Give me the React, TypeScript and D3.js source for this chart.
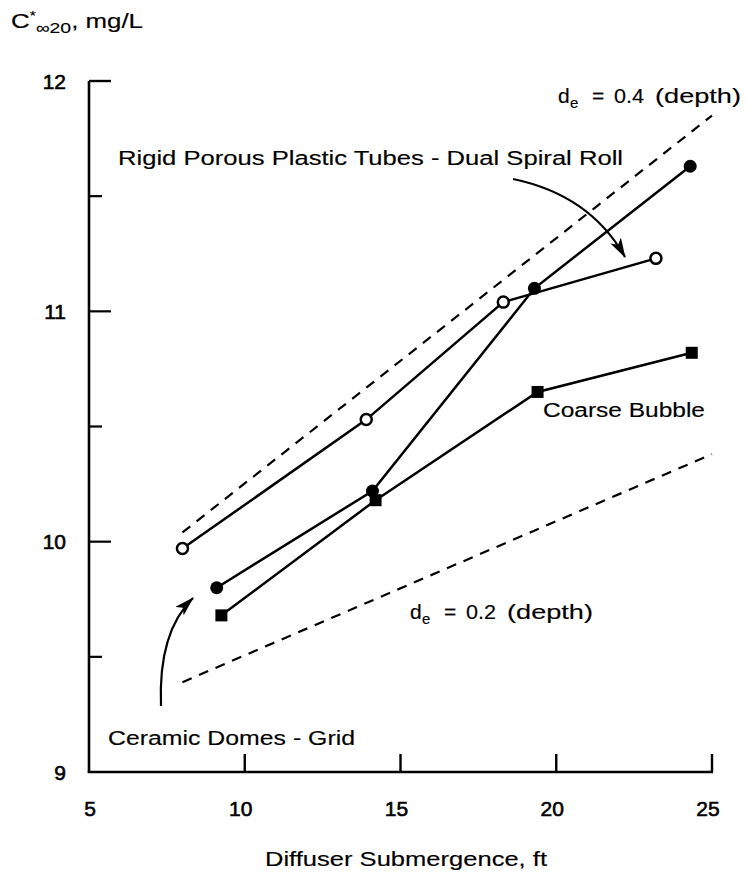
import React from "react";
import * as d3 from "d3";

const xTicks = [5, 10, 15, 20, 25];
const yTicks = [9, 10, 11, 12];
const yHalfTicks = [9.5, 10.5, 11.5];

const tubesX = [8, 13.9, 18.3, 23.2];
const tubesY = [9.97, 10.53, 11.04, 11.23];

const domesX = [9.1, 14.1, 19.3, 24.3];
const domesY = [9.8, 10.22, 11.1, 11.63];

const coarseX = [9.25, 14.2, 19.4, 24.35];
const coarseY = [9.68, 10.18, 10.65, 10.82];

const de04X = [8, 25];
const de04Y = [10.04, 11.85];

const de02X = [8, 25];
const de02Y = [9.39, 10.38];

const W = 748;
const H = 878;
const FONT = "'Liberation Sans', Arial, Helvetica, sans-serif";
const ADJ = "spacingAndGlyphs";

function DeLabel({ x0, y0, value }: { x0: number; y0: number; value: string }) {
  return (
    <g fontSize={21} fill="#000" stroke="#000" strokeWidth={0.15}>
      <text x={x0} y={y0}>d</text>
      <text x={x0 + 12} y={y0 + 5} fontSize={15}>e</text>
      <text x={x0 + 34} y={y0}>=</text>
      <text x={x0 + 56} y={y0} textLength={30} lengthAdjust={ADJ}>{value}</text>
      <text x={x0 + 97} y={y0} textLength={86} lengthAdjust={ADJ}>(depth)</text>
    </g>
  );
}

export default function App() {
  const x = d3.scaleLinear().domain([5, 25]).range([89, 712]);
  const y = d3.scaleLinear().domain([9, 12]).range([772, 81]);
  const line = d3
    .line<[number, number]>()
    .x((d) => x(d[0]))
    .y((d) => y(d[1]));
  const zip = (a: number[], b: number[]) => a.map((v, i) => [v, b[i]] as [number, number]);

  const axisY0 = y(9);
  const axisX0 = x(5);

  return (
    <svg width={W} height={H} style={{ position: "absolute", left: 0, top: 0, background: "#fff" }} fontFamily={FONT}>
      <defs>
        <marker id="ah2" viewBox="0 0 20 12" refX="19" refY="6" markerWidth="20" markerHeight="12" orient="auto" markerUnits="userSpaceOnUse">
          <path d="M0,0 L20,6 L0,12 L5,6 z" fill="#000" />
        </marker>
      </defs>

      {/* Y axis title */}
      <text x={11} y={28} fontSize={20} fill="#000" stroke="#000" strokeWidth={0.15} textLength={132} lengthAdjust={ADJ}>
        C<tspan dy={-8} fontSize={12}>*</tspan>
        <tspan dy={13} fontSize={15}>∞20</tspan>
        <tspan dy={-5}>, mg/L</tspan>
      </text>

      {/* axes */}
      <line x1={axisX0} y1={y(12)} x2={axisX0} y2={axisY0} stroke="#000" strokeWidth={2.6} />
      <line x1={axisX0 - 1.3} y1={axisY0} x2={x(25) + 1} y2={axisY0} stroke="#000" strokeWidth={2.6} />
      <line x1={axisX0} y1={y(12)} x2={axisX0 + 22} y2={y(12)} stroke="#000" strokeWidth={2.4} />
      {yTicks.filter((v) => v !== 9 && v !== 12).map((v) => (
        <line key={"ym" + v} x1={axisX0} y1={y(v)} x2={axisX0 + 22} y2={y(v)} stroke="#000" strokeWidth={2.2} />
      ))}
      {yHalfTicks.map((v) => (
        <line key={"yh" + v} x1={axisX0} y1={y(v)} x2={axisX0 + 13} y2={y(v)} stroke="#000" strokeWidth={2.2} />
      ))}
      {yTicks.map((v) => (
        <text key={"yl" + v} x={66} y={y(v)} dy="0.36em" textAnchor="end" fontSize={21} fill="#000" stroke="#000" strokeWidth={0.6}>
          {v}
        </text>
      ))}
      {xTicks.filter((v) => v !== 5).map((v) => (
        <line key={"xt" + v} x1={x(v)} y1={axisY0} x2={x(v)} y2={axisY0 - 18} stroke="#000" strokeWidth={2.4} />
      ))}
      {xTicks.map((v) => (
        <text key={"xl" + v} x={x(v) - (v === 5 ? -1 : 4)} y={816} textAnchor="middle" fontSize={21} fill="#000" stroke="#000" strokeWidth={0.6}>
          {v}
        </text>
      ))}

      {/* X axis title */}
      <text x={265} y={866} fontSize={20} fill="#000" stroke="#000" strokeWidth={0.15} textLength={282} lengthAdjust={ADJ}>
        Diffuser Submergence, ft
      </text>

      {/* dashed reference lines */}
      <path d={line(zip(de04X, de04Y)) || ""} fill="none" stroke="#000" strokeWidth={2.2} strokeDasharray="10 8" />
      <path d={line(zip(de02X, de02Y)) || ""} fill="none" stroke="#000" strokeWidth={2.2} strokeDasharray="10 8" />

      {/* series lines */}
      <path d={line(zip(tubesX, tubesY)) || ""} fill="none" stroke="#000" strokeWidth={2.5} />
      <path d={line(zip(domesX, domesY)) || ""} fill="none" stroke="#000" strokeWidth={2.5} />
      <path d={line(zip(coarseX, coarseY)) || ""} fill="none" stroke="#000" strokeWidth={2.5} />

      {/* markers */}
      {tubesX.map((v, i) => (
        <circle key={"t" + i} cx={x(v)} cy={y(tubesY[i])} r={5.5} fill="#fff" stroke="#000" strokeWidth={2.5} />
      ))}
      {domesX.map((v, i) => (
        <circle key={"d" + i} cx={x(v)} cy={y(domesY[i])} r={6.5} fill="#000" />
      ))}
      {coarseX.map((v, i) => (
        <rect key={"c" + i} x={x(v) - 6} y={y(coarseY[i]) - 6} width={12} height={12} fill="#000" />
      ))}

      {/* annotations */}
      <DeLabel x0={558} y0={103} value="0.4" />
      <text x={118} y={165} fontSize={20} fill="#000" stroke="#000" strokeWidth={0.15} textLength={505} lengthAdjust={ADJ}>
        Rigid Porous Plastic Tubes - Dual Spiral Roll
      </text>
      <path d="M513,179 Q590,195 625,257" fill="none" stroke="#000" strokeWidth={2.2} markerEnd="url(#ah2)" />

      <text x={543} y={417} fontSize={20} fill="#000" stroke="#000" strokeWidth={0.15} textLength={162} lengthAdjust={ADJ}>
        Coarse Bubble
      </text>

      <DeLabel x0={410} y0={619} value="0.2" />

      <text x={108} y={745} fontSize={20} fill="#000" stroke="#000" strokeWidth={0.15} textLength={247} lengthAdjust={ADJ}>
        Ceramic Domes - Grid
      </text>
      <path d="M161,706 Q158,632 193,598" fill="none" stroke="#000" strokeWidth={2.2} markerEnd="url(#ah2)" />
    </svg>
  );
}
